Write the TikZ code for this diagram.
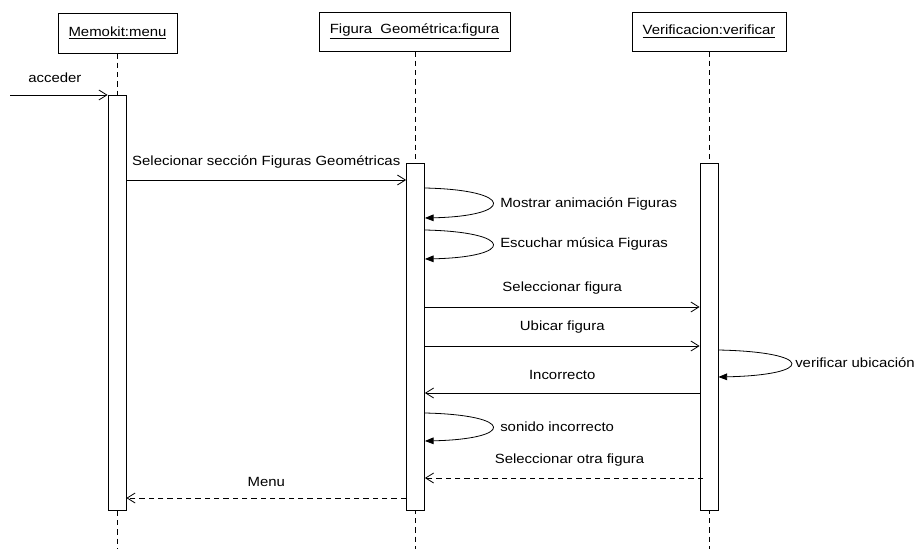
\documentclass[tikz,border=0pt]{standalone}
\usepackage{fontspec}
\setmainfont{Liberation Sans}[FakeStretch=1.12]
\usetikzlibrary{arrows.meta}
\begin{document}
\begin{tikzpicture}[x=0.75pt,y=-0.75pt,
  every node/.style={font=\fontsize{10pt}{12pt}\selectfont},
  header/.style={draw, line width=0.6pt, inner sep=0pt, fill=white},
  lifeline/.style={line width=0.6pt, dash pattern=on 4pt off 3pt},
  actbar/.style={draw, line width=0.6pt, fill=white, minimum width=13.5pt, inner sep=0pt},
  msg/.style={line width=0.6pt, -{Straight Barb[length=6pt,width=7.5pt]}},
  reply/.style={msg, dash pattern=on 4pt off 3pt},
  selfmsg/.style={line width=0.6pt, -{Triangle[length=6.5pt,width=5pt]}},
  lbl/.style={inner sep=0pt},
  looplbl/.style={inner sep=0pt, anchor=west}
]
\useasboundingbox (0,0) rectangle (917,549);

% headers
\node[header, minimum width=89.25pt, minimum height=30pt] (mem) at (117.5,33) {\underline{Memokit:menu}};
\node[header, minimum width=143.25pt, minimum height=29.25pt] (fig) at (414.5,31.5) {\underline{Figura\ \ Geométrica:figura}};
\node[header, minimum width=115.5pt, minimum height=29.25pt] (ver) at (709,31.5) {\underline{Verificacion:verificar}};

% lifeline ends
\coordinate (memend) at (117,549);
\coordinate (figend) at (415.5,549);
\coordinate (verend) at (709,549);
\draw[lifeline] (mem.south -| memend) -- (memend);
\draw[lifeline] (fig.south -| figend) -- (figend);
\draw[lifeline] (ver.south -| verend) -- (verend);

% activation bars
\node[actbar, minimum height=311.25pt] (memA) at (117,302.5) {};
\node[actbar, minimum height=260.25pt] (figA) at (415.5,336.5) {};
\node[actbar, minimum height=260.25pt] (verA) at (709,336.5) {};

% acceder
\coordinate (start) at (10,95);
\draw[msg] (start) -- (memA.west |- start) node[lbl, pos=0.46, yshift=13pt] {acceder};

% messages
\coordinate (y1) at (0,180);
\draw[msg] (memA.east |- y1) -- (figA.west |- y1) node[lbl, midway, yshift=13.5pt] {Selecionar sección Figuras Geométricas};

\coordinate (l1a) at (0,188);
\coordinate (l1b) at (0,218);
\draw[selfmsg] (figA.east |- l1a) .. controls (515,190) and (515,216) .. (figA.east |- l1b);
\node[looplbl] (t1) at (500,204) {Mostrar animación Figuras};

\coordinate (l2a) at (0,230);
\coordinate (l2b) at (0,259);
\draw[selfmsg] (figA.east |- l2a) .. controls (515,232) and (515,257) .. (figA.east |- l2b);
\node[looplbl] (t2) at (500,244) {Escuchar música Figuras};

\coordinate (y2) at (0,307);
\draw[msg] (figA.east |- y2) -- (verA.west |- y2) node[lbl, midway, yshift=14pt] {Seleccionar figura};

\coordinate (y3) at (0,346);
\draw[msg] (figA.east |- y3) -- (verA.west |- y3) node[lbl, midway, yshift=14pt] {Ubicar figura};

\coordinate (l3a) at (0,350);
\coordinate (l3b) at (0,377);
\draw[selfmsg] (verA.east |- l3a) .. controls (815,352) and (815,375) .. (verA.east |- l3b);
\node[looplbl] (t3) at (795,363) {verificar ubicación};

\coordinate (y4) at (0,393);
\draw[msg] (verA.west |- y4) -- (figA.east |- y4) node[lbl, midway, yshift=13.5pt] {Incorrecto};

\coordinate (l4a) at (0,413);
\coordinate (l4b) at (0,441);
\draw[selfmsg] (figA.east |- l4a) .. controls (515,415) and (515,439) .. (figA.east |- l4b);
\node[looplbl] (t4) at (500,427) {sonido incorrecto};

\coordinate (y5a) at (703,478);
\draw[reply] (y5a) -- (figA.east |- y5a) node[lbl, pos=0.48, yshift=13.5pt] {Seleccionar otra figura};

\coordinate (y6) at (0,498);
\draw[reply] (figA.west |- y6) -- (memA.east |- y6) node[lbl, midway, yshift=12pt] {Menu};
\end{tikzpicture}
\end{document}
